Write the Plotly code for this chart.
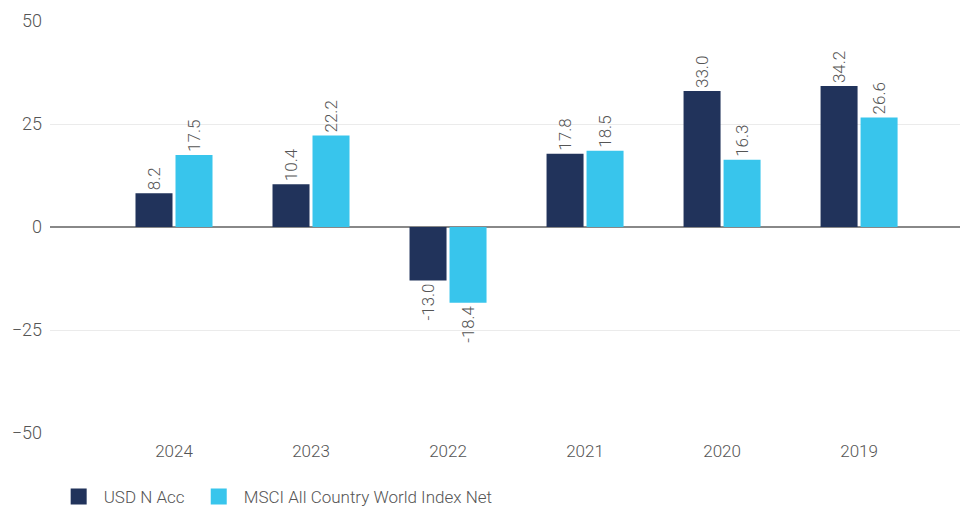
import plotly.graph_objects as go

years = ["2024", "2023", "2022", "2021", "2020", "2019"]
fund = [8.2, 10.4, -13.0, 17.8, 33.0, 34.2]
index = [17.5, 22.2, -18.4, 18.5, 16.3, 26.6]
series_names = ["USD N Acc\u00a0", "MSCI All Country World Index Net"]
colors = ["#21335b", "#38c5ec"]

FONT = "Roboto, sans-serif"

fig = go.Figure()
for name, vals, col in zip(series_names, [fund, index], colors):
    fig.add_trace(go.Bar(
        x=years, y=vals, name=name, marker=dict(color=col, line=dict(width=0)),
        text=[f"{v:.1f}" for v in vals], textposition="outside", textangle=-90,
        textfont=dict(family=FONT, size=17, color="#555555", weight=300), cliponaxis=False,
        showlegend=False,
    ))
    fig.add_trace(go.Scatter(
        x=[None], y=[None], mode="markers", name=name,
        marker=dict(symbol="square", size=19, color=col),
    ))

fig.update_layout(
    width=960, height=508,
    margin=dict(l=42, r=0, t=13, b=83),
    paper_bgcolor="white", plot_bgcolor="white",
    barmode="group", bargap=0.416, bargroupgap=0.075,
    font=dict(family=FONT, size=17, color="#555555", weight=300),
    xaxis=dict(range=[-0.905, 5.795], showgrid=False, showline=False, ticks="",
               ticklabelstandoff=6,
               tickfont=dict(size=17, color="#555555", weight=300)),
    yaxis=dict(range=[-50, 50], tickvals=[-50, -25, 0, 25, 50], showgrid=True,
               gridcolor="#ebebeb", gridwidth=1, zeroline=True, zerolinecolor="#888888",
               zerolinewidth=2, ticks="", ticklabelstandoff=7,
               tickfont=dict(size=18, color="#555555", weight=300)),
    legend=dict(orientation="h", x=0.004, xanchor="left", y=-0.199, yanchor="bottom",
                font=dict(size=17, color="#555555", weight=300), itemwidth=40,
                tracegroupgap=0),
)

fig.write_html("out.html")
